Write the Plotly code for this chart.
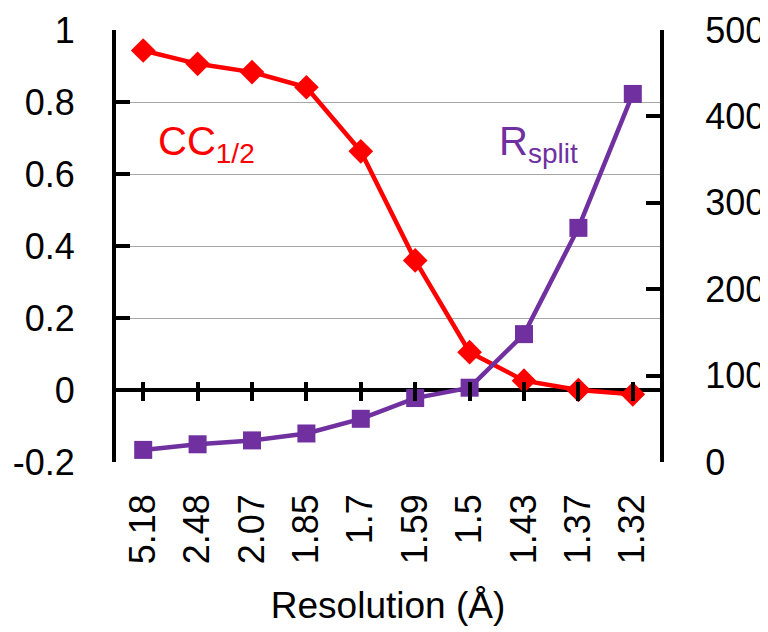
import plotly.graph_objects as go

resolution = ["5.18", "2.48", "2.07", "1.85", "1.7", "1.59", "1.5", "1.43", "1.37", "1.32"]
cc_half = [0.943, 0.906, 0.883, 0.841, 0.663, 0.36, 0.105, 0.026, 0.0, -0.012]
r_split = [14, 20.5, 25, 33, 50, 74, 86, 148, 271, 426]

left_ticks = [-0.2, 0, 0.2, 0.4, 0.6, 0.8, 1]
left_labels = ["-0.2", "0", "0.2", "0.4", "0.6", "0.8", "1"]
right_ticks = [0, 100, 200, 300, 400, 500]

FONT = "Liberation Sans, Arial, sans-serif"
RED = "#FF0000"
PURPLE = "#7030A0"

idx = list(range(len(resolution)))

# page body adds an 8px margin; size the figure so the chart lands where the reference has it
W, H = 760, 624
ML, MT = 108, 22
PW, PH = 544, 432

fig = go.Figure()
fig.add_trace(go.Scatter(
    x=resolution, y=cc_half, mode="lines+markers", name="CC1/2",
    line=dict(color=RED, width=4.5),
    marker=dict(symbol="diamond", size=19, color=RED),
    yaxis="y", xaxis="x"))
fig.add_trace(go.Scatter(
    x=resolution, y=r_split, mode="lines+markers", name="Rsplit",
    line=dict(color=PURPLE, width=4.5),
    marker=dict(symbol="square", size=18, color=PURPLE),
    yaxis="y2", xaxis="x"))
# invisible helper to carry the crossing tick marks at y=0
fig.add_trace(go.Scatter(x=idx, y=[None] * len(idx), xaxis="x2", yaxis="y",
                         mode="markers", showlegend=False, hoverinfo="skip"))

ymin, ymax = left_ticks[0], left_ticks[-1]
zero_pos = (0 - ymin) / (ymax - ymin)
half_tick = 9  # px above the zero line

fig.update_layout(
    width=W, height=H,
    margin=dict(l=ML, r=W - ML - PW, t=MT, b=H - MT - PH, autoexpand=False),
    paper_bgcolor="white", plot_bgcolor="white",
    showlegend=False,
    font=dict(family=FONT, size=36, color="black"),
    xaxis=dict(type="category", range=[-0.5, len(idx) - 0.5],
               tickangle=-90, ticks="", showline=False, showgrid=False,
               zeroline=False, ticklabelstandoff=24, automargin=False,
               tickfont=dict(size=36, family=FONT),
               title=dict(text="Resolution (Å)", font=dict(size=37, family=FONT),
                          standoff=28)),
    xaxis2=dict(overlaying="x", anchor="free", side="bottom",
                position=zero_pos + half_tick / PH,
                range=[-0.5, len(idx) - 0.5], tickmode="array", tickvals=idx,
                showticklabels=False, showgrid=False, zeroline=False,
                showline=False, ticks="outside", ticklen=2 * half_tick + 1,
                tickwidth=4, tickcolor="black", automargin=False),
    yaxis=dict(range=[ymin, ymax], tickmode="array", tickvals=left_ticks,
               ticktext=left_labels, ticks="inside", ticklen=14, tickwidth=4,
               tickcolor="black", showline=True, linewidth=4, linecolor="black",
               showgrid=True, gridcolor="#A6A6A6", gridwidth=1.2,
               zeroline=True, zerolinecolor="black", zerolinewidth=4,
               ticklabelstandoff=30, automargin=False,
               tickfont=dict(size=36, family=FONT)),
    yaxis2=dict(overlaying="y", side="right", range=[right_ticks[0], right_ticks[-1]],
                tickmode="array", tickvals=right_ticks, ticks="inside",
                ticklen=14, tickwidth=4, tickcolor="black", showline=True,
                linewidth=4, linecolor="black", showgrid=False, zeroline=False,
                ticklabelstandoff=34, automargin=False,
                tickfont=dict(size=36, family=FONT)),
    annotations=[
        dict(text="CC<sub>1/2</sub>", xref="paper", yref="paper", x=0.074, y=0.735,
             xanchor="left", yanchor="middle", showarrow=False,
             font=dict(size=40, color=RED, family=FONT)),
        dict(text="R<sub>split</sub>", xref="paper", yref="paper", x=0.700, y=0.735,
             xanchor="left", yanchor="middle", showarrow=False,
             font=dict(size=40, color=PURPLE, family=FONT)),
    ],
)

fig.write_html("out.html")
